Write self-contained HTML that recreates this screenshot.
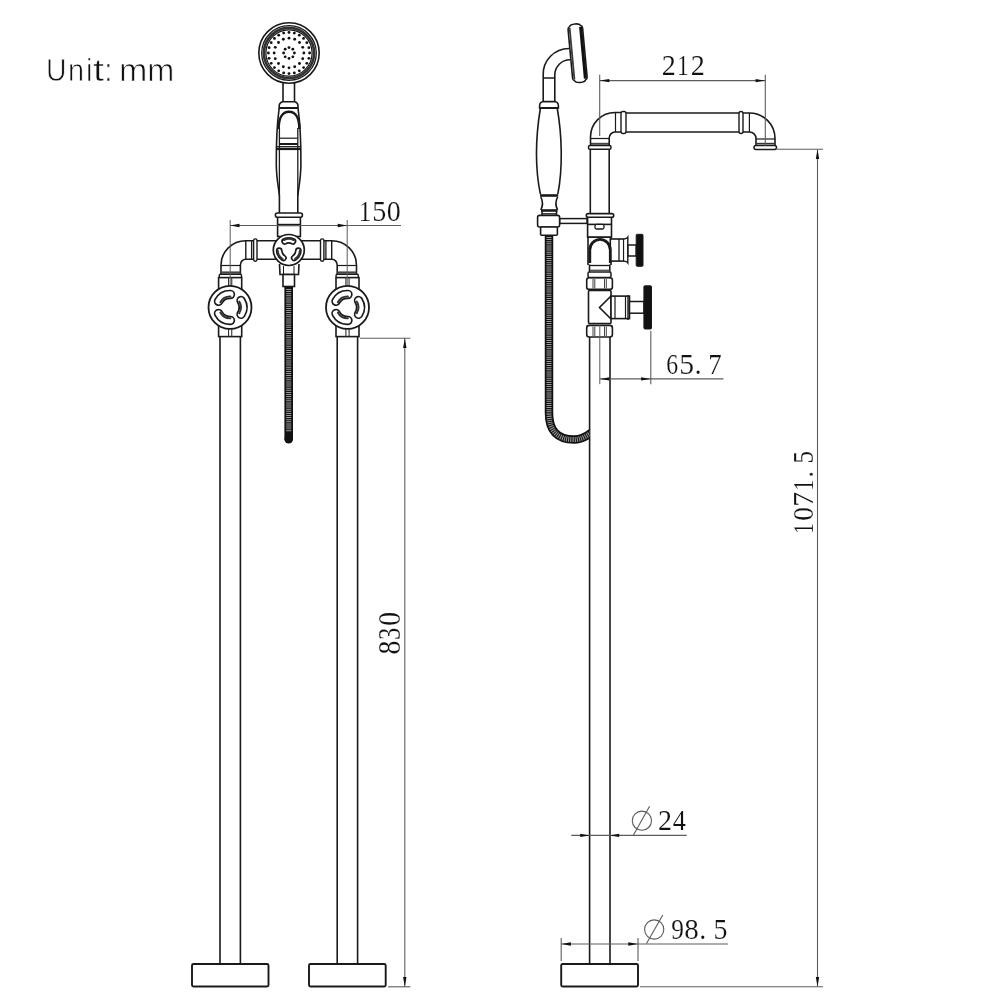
<!DOCTYPE html>
<html><head><meta charset="utf-8"><style>
html,body{margin:0;padding:0;background:#fff;}
body{width:1000px;height:1000px;overflow:hidden;position:relative;}
.unit{position:absolute;left:0;top:0;}
svg{position:absolute;left:0;top:0;will-change:transform;}
.dim{font-family:"Liberation Serif",serif;font-size:27px;fill:#111;}
.lbl{font-family:"Liberation Sans",sans-serif;font-size:30px;fill:#111;}
</style></head><body>
<svg width="1000" height="1000" viewBox="0 0 1000 1000">
<text transform="translate(46.018 81.290) scale(0.28421 0.31000)" style="font-family:'Liberation Sans';font-size:100px" fill="#111" stroke="#fff" stroke-width="2.46">U</text>
<text transform="translate(67.969 81.290) scale(0.28941 0.31000)" style="font-family:'Liberation Sans';font-size:100px" fill="#111" stroke="#fff" stroke-width="2.42">n</text>
<text transform="translate(86.000 81.290) scale(0.30000 0.31000)" style="font-family:'Liberation Sans';font-size:100px" fill="#111" stroke="#fff" stroke-width="2.33">i</text>
<text transform="translate(93.050 81.290) scale(0.40000 0.31000)" style="font-family:'Liberation Sans';font-size:100px" fill="#111" stroke="#fff" stroke-width="1.75">t</text>
<text transform="translate(104.225 81.290) scale(0.30000 0.31000)" style="font-family:'Liberation Sans';font-size:100px" fill="#111" stroke="#fff" stroke-width="2.33">:</text>
<text transform="translate(119.040 81.290) scale(0.34000 0.31000)" style="font-family:'Liberation Sans';font-size:100px" fill="#111" stroke="#fff" stroke-width="2.06">m</text>
<text transform="translate(147.142 81.290) scale(0.32429 0.31000)" style="font-family:'Liberation Sans';font-size:100px" fill="#111" stroke="#fff" stroke-width="2.16">m</text>
<line x1="220.00" y1="336.60" x2="220.00" y2="964.00" stroke="#1a1a1a" stroke-width="1.60"/>
<line x1="240.40" y1="336.60" x2="240.40" y2="964.00" stroke="#1a1a1a" stroke-width="1.60"/>
<line x1="337.20" y1="336.60" x2="337.20" y2="964.00" stroke="#1a1a1a" stroke-width="1.60"/>
<line x1="357.60" y1="336.60" x2="357.60" y2="964.00" stroke="#1a1a1a" stroke-width="1.60"/>
<rect x="192.00" y="964.00" width="76.50" height="22.50" rx="1.50" fill="#fff" stroke="#1a1a1a" stroke-width="1.90"/>
<rect x="309.00" y="964.00" width="76.70" height="22.50" rx="1.50" fill="#fff" stroke="#1a1a1a" stroke-width="1.90"/>
<path d="M221,277 V265 A24.8,24.2 0 0 1 245.8,240.8 H276" fill="none" stroke="#1a1a1a" stroke-width="1.60" />
<path d="M240.4,274 V265 A5.4,5.8 0 0 1 245.8,259.2 H276" fill="none" stroke="#1a1a1a" stroke-width="1.60" />
<line x1="221.00" y1="265.50" x2="240.40" y2="265.50" stroke="#1a1a1a" stroke-width="1.20"/>
<line x1="221.00" y1="272.50" x2="240.40" y2="272.50" stroke="#444" stroke-width="2.20"/>
<rect x="219.20" y="274.30" width="22.40" height="3.30" rx="1.40" fill="#fff" stroke="#1a1a1a" stroke-width="1.40"/>
<line x1="245.80" y1="240.80" x2="245.80" y2="259.20" stroke="#1a1a1a" stroke-width="1.40"/>
<line x1="251.60" y1="240.80" x2="251.60" y2="259.20" stroke="#1a1a1a" stroke-width="1.30"/>
<rect x="253.60" y="238.90" width="3.40" height="22.30" rx="1.60" fill="#fff" stroke="#1a1a1a" stroke-width="1.40"/>
<path d="M356.5,277 V265 A24.8,24.2 0 0 0 331.7,240.8 H301" fill="none" stroke="#1a1a1a" stroke-width="1.60" />
<path d="M337.2,274 V265 A5.4,5.8 0 0 0 331.7,259.2 H301" fill="none" stroke="#1a1a1a" stroke-width="1.60" />
<line x1="337.20" y1="265.50" x2="356.50" y2="265.50" stroke="#1a1a1a" stroke-width="1.20"/>
<line x1="337.20" y1="272.50" x2="356.50" y2="272.50" stroke="#444" stroke-width="2.20"/>
<rect x="336.00" y="274.30" width="22.40" height="3.30" rx="1.40" fill="#fff" stroke="#1a1a1a" stroke-width="1.40"/>
<line x1="331.70" y1="240.80" x2="331.70" y2="259.20" stroke="#1a1a1a" stroke-width="1.40"/>
<line x1="325.90" y1="240.80" x2="325.90" y2="259.20" stroke="#1a1a1a" stroke-width="1.30"/>
<rect x="320.50" y="238.90" width="3.40" height="22.30" rx="1.60" fill="#fff" stroke="#1a1a1a" stroke-width="1.40"/>
<rect x="218.60" y="277.60" width="23.10" height="14.40" rx="0.00" fill="#fff" stroke="#1a1a1a" stroke-width="1.60"/>
<rect x="218.60" y="322.00" width="23.10" height="14.60" rx="0.00" fill="#fff" stroke="#1a1a1a" stroke-width="1.60"/>
<line x1="228.55" y1="277.60" x2="228.55" y2="292.00" stroke="#333" stroke-width="1.10"/>
<line x1="231.75" y1="277.60" x2="231.75" y2="292.00" stroke="#333" stroke-width="1.10"/>
<line x1="228.55" y1="322.00" x2="228.55" y2="336.60" stroke="#333" stroke-width="1.10"/>
<line x1="231.75" y1="322.00" x2="231.75" y2="336.60" stroke="#333" stroke-width="1.10"/>
<rect x="336.00" y="277.60" width="23.00" height="14.40" rx="0.00" fill="#fff" stroke="#1a1a1a" stroke-width="1.60"/>
<rect x="336.00" y="322.00" width="23.00" height="14.60" rx="0.00" fill="#fff" stroke="#1a1a1a" stroke-width="1.60"/>
<line x1="345.90" y1="277.60" x2="345.90" y2="292.00" stroke="#333" stroke-width="1.10"/>
<line x1="349.10" y1="277.60" x2="349.10" y2="292.00" stroke="#333" stroke-width="1.10"/>
<line x1="345.90" y1="322.00" x2="345.90" y2="336.60" stroke="#333" stroke-width="1.10"/>
<line x1="349.10" y1="322.00" x2="349.10" y2="336.60" stroke="#333" stroke-width="1.10"/>
<line x1="230.20" y1="220.00" x2="230.20" y2="300.00" stroke="#5c5c5c" stroke-width="1.00"/>
<line x1="347.20" y1="220.00" x2="347.20" y2="300.00" stroke="#5c5c5c" stroke-width="1.00"/>
<circle cx="230.00" cy="307.40" r="21.50" fill="#fff" stroke="#1a1a1a" stroke-width="1.8"/>
<path d="M218.52,301.30 A13.00,13.00 0 0 1 230.45,294.41" fill="none" stroke="#1a1a1a" stroke-width="9.50" stroke-linecap="round"/>
<path d="M218.52,301.30 A13.00,13.00 0 0 1 230.45,294.41" fill="none" stroke="#fff" stroke-width="6.10" stroke-linecap="round"/>
<path d="M220.37,302.28 A10.91,10.91 0 0 1 230.38,296.50" fill="none" stroke="#333" stroke-width="2.00" stroke-linecap="round"/>
<path d="M241.02,300.51 A13.00,13.00 0 0 1 241.02,314.29" fill="none" stroke="#1a1a1a" stroke-width="9.50" stroke-linecap="round"/>
<path d="M241.02,300.51 A13.00,13.00 0 0 1 241.02,314.29" fill="none" stroke="#fff" stroke-width="6.10" stroke-linecap="round"/>
<path d="M239.25,301.62 A10.91,10.91 0 0 1 239.25,313.18" fill="none" stroke="#333" stroke-width="2.00" stroke-linecap="round"/>
<path d="M230.45,320.39 A13.00,13.00 0 0 1 218.52,313.50" fill="none" stroke="#1a1a1a" stroke-width="9.50" stroke-linecap="round"/>
<path d="M230.45,320.39 A13.00,13.00 0 0 1 218.52,313.50" fill="none" stroke="#fff" stroke-width="6.10" stroke-linecap="round"/>
<path d="M230.38,318.30 A10.91,10.91 0 0 1 220.37,312.52" fill="none" stroke="#333" stroke-width="2.00" stroke-linecap="round"/>
<circle cx="347.50" cy="307.40" r="21.50" fill="#fff" stroke="#1a1a1a" stroke-width="1.8"/>
<path d="M336.02,301.30 A13.00,13.00 0 0 1 347.95,294.41" fill="none" stroke="#1a1a1a" stroke-width="9.50" stroke-linecap="round"/>
<path d="M336.02,301.30 A13.00,13.00 0 0 1 347.95,294.41" fill="none" stroke="#fff" stroke-width="6.10" stroke-linecap="round"/>
<path d="M337.87,302.28 A10.91,10.91 0 0 1 347.88,296.50" fill="none" stroke="#333" stroke-width="2.00" stroke-linecap="round"/>
<path d="M358.52,300.51 A13.00,13.00 0 0 1 358.52,314.29" fill="none" stroke="#1a1a1a" stroke-width="9.50" stroke-linecap="round"/>
<path d="M358.52,300.51 A13.00,13.00 0 0 1 358.52,314.29" fill="none" stroke="#fff" stroke-width="6.10" stroke-linecap="round"/>
<path d="M356.75,301.62 A10.91,10.91 0 0 1 356.75,313.18" fill="none" stroke="#333" stroke-width="2.00" stroke-linecap="round"/>
<path d="M347.95,320.39 A13.00,13.00 0 0 1 336.02,313.50" fill="none" stroke="#1a1a1a" stroke-width="9.50" stroke-linecap="round"/>
<path d="M347.95,320.39 A13.00,13.00 0 0 1 336.02,313.50" fill="none" stroke="#fff" stroke-width="6.10" stroke-linecap="round"/>
<path d="M347.88,318.30 A10.91,10.91 0 0 1 337.87,312.52" fill="none" stroke="#333" stroke-width="2.00" stroke-linecap="round"/>
<rect x="277.60" y="217.00" width="22.80" height="19.50" rx="0.00" fill="#fff" stroke="#1a1a1a" stroke-width="1.60"/>
<line x1="277.60" y1="225.00" x2="300.40" y2="225.00" stroke="#1a1a1a" stroke-width="2.40"/>
<rect x="275.40" y="213.00" width="27.00" height="4.20" rx="2.00" fill="#fff" stroke="#1a1a1a" stroke-width="1.60"/>
<path d="M279.5,264 L280,274.5 H298.5 L299,264" fill="none" stroke="#1a1a1a" stroke-width="1.60" />
<line x1="283.50" y1="266.00" x2="283.50" y2="274.50" stroke="#1a1a1a" stroke-width="1.00"/>
<line x1="294.00" y1="266.00" x2="294.00" y2="274.50" stroke="#1a1a1a" stroke-width="1.00"/>
<rect x="283.00" y="274.50" width="11.50" height="12.00" rx="0.00" fill="#fff" stroke="#1a1a1a" stroke-width="1.60"/>
<circle cx="288.8" cy="250" r="15.5" fill="#fff" stroke="#1a1a1a" stroke-width="1.7"/>
<path d="M284.59,241.37 A9.60,9.60 0 0 1 293.01,241.37" fill="none" stroke="#1a1a1a" stroke-width="6.80" stroke-linecap="round"/>
<path d="M284.59,241.37 A9.60,9.60 0 0 1 293.01,241.37" fill="none" stroke="#fff" stroke-width="3.40" stroke-linecap="round"/>
<path d="M283.94,240.03 A11.10,11.10 0 0 1 293.66,240.03" fill="none" stroke="#333" stroke-width="2.00" stroke-linecap="round"/>
<path d="M298.38,250.67 A9.60,9.60 0 0 1 294.17,257.96" fill="none" stroke="#1a1a1a" stroke-width="6.80" stroke-linecap="round"/>
<path d="M298.38,250.67 A9.60,9.60 0 0 1 294.17,257.96" fill="none" stroke="#fff" stroke-width="3.40" stroke-linecap="round"/>
<path d="M299.87,250.77 A11.10,11.10 0 0 1 295.00,259.20" fill="none" stroke="#333" stroke-width="2.00" stroke-linecap="round"/>
<path d="M283.43,257.96 A9.60,9.60 0 0 1 279.22,250.67" fill="none" stroke="#1a1a1a" stroke-width="6.80" stroke-linecap="round"/>
<path d="M283.43,257.96 A9.60,9.60 0 0 1 279.22,250.67" fill="none" stroke="#fff" stroke-width="3.40" stroke-linecap="round"/>
<path d="M282.60,259.20 A11.10,11.10 0 0 1 277.73,250.77" fill="none" stroke="#333" stroke-width="2.00" stroke-linecap="round"/>
<path d="M288.7,286.5 V439.2" stroke="#111" stroke-width="8.6" fill="none"/><circle cx="288.7" cy="439.2" r="4.3" fill="#111"/>
<line x1="288.7" y1="289" x2="288.7" y2="432" stroke="#fff" stroke-width="5.0" stroke-dasharray="1 1.1" opacity="0.6"/>
<line x1="283.00" y1="83.00" x2="283.00" y2="101.80" stroke="#1a1a1a" stroke-width="1.60"/>
<line x1="294.50" y1="83.00" x2="294.50" y2="101.80" stroke="#1a1a1a" stroke-width="1.60"/>
<path d="M283,101.8 H294.5 Q298,102.5 298,106 V108 H279.2 V106 Q279.2,102.5 283,101.8 Z" fill="#fff" stroke="#1a1a1a" stroke-width="1.60" />
<line x1="279.20" y1="108.00" x2="298.00" y2="108.00" stroke="#1a1a1a" stroke-width="2.00"/>
<path d="M279.2,108 C276.8,125 276.2,150 276.3,165 C276.5,180 279,190 279.4,196 V213" fill="none" stroke="#1a1a1a" stroke-width="1.60" />
<path d="M298,108 C300.4,125 301,150 300.9,165 C300.7,180 298.2,190 297.8,196 V213" fill="none" stroke="#1a1a1a" stroke-width="1.60" />
<line x1="279.40" y1="128.00" x2="279.40" y2="196.00" stroke="#1a1a1a" stroke-width="1.30"/>
<line x1="297.80" y1="128.00" x2="297.80" y2="196.00" stroke="#1a1a1a" stroke-width="1.30"/>
<path d="M278.6,129 C278.6,116.5 283.5,111.8 289,111.8 C294.5,111.8 299.4,116.5 299.4,129" fill="none" stroke="#1a1a1a" stroke-width="2.60" />
<line x1="279.40" y1="138.20" x2="297.80" y2="138.20" stroke="#1a1a1a" stroke-width="1.20"/>
<line x1="279.40" y1="144.00" x2="297.80" y2="144.00" stroke="#1a1a1a" stroke-width="2.00"/>
<line x1="277.00" y1="146.60" x2="300.50" y2="146.60" stroke="#1a1a1a" stroke-width="1.10"/>
<line x1="276.60" y1="148.90" x2="300.80" y2="148.90" stroke="#1a1a1a" stroke-width="2.40"/>
<circle cx="289" cy="53" r="30.2" fill="#fff" stroke="#1a1a1a" stroke-width="1.6"/>
<circle cx="289" cy="53" r="27.3" fill="none" stroke="#1a1a1a" stroke-width="1.3"/>
<circle cx="289" cy="53" r="25.1" fill="none" stroke="#333" stroke-width="2.6"/>
<circle cx="289" cy="53" r="23.1" fill="none" stroke="#1a1a1a" stroke-width="1.2"/>
<circle cx="309.60" cy="53.00" r="1.42" fill="#111"/>
<circle cx="308.90" cy="58.33" r="1.42" fill="#111"/>
<circle cx="306.84" cy="63.30" r="1.42" fill="#111"/>
<circle cx="303.57" cy="67.57" r="1.42" fill="#111"/>
<circle cx="299.30" cy="70.84" r="1.42" fill="#111"/>
<circle cx="294.33" cy="72.90" r="1.42" fill="#111"/>
<circle cx="289.00" cy="73.60" r="1.42" fill="#111"/>
<circle cx="283.67" cy="72.90" r="1.42" fill="#111"/>
<circle cx="278.70" cy="70.84" r="1.42" fill="#111"/>
<circle cx="274.43" cy="67.57" r="1.42" fill="#111"/>
<circle cx="271.16" cy="63.30" r="1.42" fill="#111"/>
<circle cx="269.10" cy="58.33" r="1.42" fill="#111"/>
<circle cx="268.40" cy="53.00" r="1.42" fill="#111"/>
<circle cx="269.10" cy="47.67" r="1.42" fill="#111"/>
<circle cx="271.16" cy="42.70" r="1.42" fill="#111"/>
<circle cx="274.43" cy="38.43" r="1.42" fill="#111"/>
<circle cx="278.70" cy="35.16" r="1.42" fill="#111"/>
<circle cx="283.67" cy="33.10" r="1.42" fill="#111"/>
<circle cx="289.00" cy="32.40" r="1.42" fill="#111"/>
<circle cx="294.33" cy="33.10" r="1.42" fill="#111"/>
<circle cx="299.30" cy="35.16" r="1.42" fill="#111"/>
<circle cx="303.57" cy="38.43" r="1.42" fill="#111"/>
<circle cx="306.84" cy="42.70" r="1.42" fill="#111"/>
<circle cx="308.90" cy="47.67" r="1.42" fill="#111"/>
<circle cx="303.85" cy="53.00" r="1.42" fill="#111"/>
<circle cx="302.72" cy="58.68" r="1.42" fill="#111"/>
<circle cx="299.50" cy="63.50" r="1.42" fill="#111"/>
<circle cx="294.68" cy="66.72" r="1.42" fill="#111"/>
<circle cx="289.00" cy="67.85" r="1.42" fill="#111"/>
<circle cx="283.32" cy="66.72" r="1.42" fill="#111"/>
<circle cx="278.50" cy="63.50" r="1.42" fill="#111"/>
<circle cx="275.28" cy="58.68" r="1.42" fill="#111"/>
<circle cx="274.15" cy="53.00" r="1.42" fill="#111"/>
<circle cx="275.28" cy="47.32" r="1.42" fill="#111"/>
<circle cx="278.50" cy="42.50" r="1.42" fill="#111"/>
<circle cx="283.32" cy="39.28" r="1.42" fill="#111"/>
<circle cx="289.00" cy="38.15" r="1.42" fill="#111"/>
<circle cx="294.68" cy="39.28" r="1.42" fill="#111"/>
<circle cx="299.50" cy="42.50" r="1.42" fill="#111"/>
<circle cx="302.72" cy="47.32" r="1.42" fill="#111"/>
<circle cx="294.40" cy="53.00" r="1.42" fill="#111"/>
<circle cx="292.82" cy="56.82" r="1.42" fill="#111"/>
<circle cx="289.00" cy="58.40" r="1.42" fill="#111"/>
<circle cx="285.18" cy="56.82" r="1.42" fill="#111"/>
<circle cx="283.60" cy="53.00" r="1.42" fill="#111"/>
<circle cx="285.18" cy="49.18" r="1.42" fill="#111"/>
<circle cx="289.00" cy="47.60" r="1.42" fill="#111"/>
<circle cx="292.82" cy="49.18" r="1.42" fill="#111"/>
<line x1="230.00" y1="225.50" x2="401.00" y2="225.50" stroke="#5c5c5c" stroke-width="1.10"/>
<polygon points="230.00,225.50 239.50,223.80 239.50,227.20" fill="#111"/>
<polygon points="347.20,225.50 337.70,223.80 337.70,227.20" fill="#111"/>
<text transform="translate(358.750 220.850) scale(0.25000 0.30075)" style="font-family:'Liberation Serif';font-size:100px" fill="#111" stroke="#fff" stroke-width="0.60">1</text>
<text transform="translate(372.312 220.850) scale(0.28125 0.30075)" style="font-family:'Liberation Serif';font-size:100px" fill="#111" stroke="#fff" stroke-width="0.53">5</text>
<text transform="translate(386.631 220.850) scale(0.27976 0.30075)" style="font-family:'Liberation Serif';font-size:100px" fill="#111" stroke="#fff" stroke-width="0.54">0</text>
<line x1="360.00" y1="338.30" x2="410.40" y2="338.30" stroke="#5c5c5c" stroke-width="1.10"/>
<line x1="388.00" y1="986.80" x2="410.40" y2="986.80" stroke="#5c5c5c" stroke-width="1.10"/>
<line x1="404.80" y1="338.30" x2="404.80" y2="986.80" stroke="#5c5c5c" stroke-width="1.10"/>
<polygon points="404.80,338.50 403.10,348.00 406.50,348.00" fill="#111"/>
<polygon points="404.80,986.60 403.10,977.10 406.50,977.10" fill="#111"/>
<text transform="translate(400.247 654.605) rotate(-90) scale(0.27619 0.30526)" style="font-family:'Liberation Serif';font-size:100px" fill="#111" stroke="#fff" stroke-width="0.54">8</text>
<text transform="translate(400.247 639.920) rotate(-90) scale(0.24390 0.30526)" style="font-family:'Liberation Serif';font-size:100px" fill="#111" stroke="#fff" stroke-width="0.61">3</text>
<text transform="translate(400.247 625.705) rotate(-90) scale(0.27619 0.30526)" style="font-family:'Liberation Serif';font-size:100px" fill="#111" stroke="#fff" stroke-width="0.54">0</text>
<line x1="589.60" y1="337.00" x2="589.60" y2="964.00" stroke="#1a1a1a" stroke-width="1.60"/>
<line x1="610.00" y1="337.00" x2="610.00" y2="964.00" stroke="#1a1a1a" stroke-width="1.60"/>
<rect x="561.20" y="964.00" width="76.80" height="22.50" rx="1.50" fill="#fff" stroke="#1a1a1a" stroke-width="1.90"/>
<defs><clipPath id="hc"><rect x="500" y="200" width="89.5" height="300"/></clipPath></defs>
<g clip-path="url(#hc)">
<path d="M549,235 V413 Q549,439.6 574,439.6 Q584,439.6 596,429" fill="none" stroke="#111" stroke-width="8.5"/>
<path d="M549,237 V413 Q549,439.6 574,439.6 Q584,439.6 596,429" fill="none" stroke="#fff" stroke-width="5.0" stroke-dasharray="1 1.1" opacity="0.6"/>
</g>
<rect x="586.70" y="325.40" width="25.70" height="11.60" rx="2.50" fill="#fff" stroke="#1a1a1a" stroke-width="1.60"/>
<line x1="593.00" y1="326.50" x2="593.00" y2="336.00" stroke="#444" stroke-width="1.00"/>
<line x1="594.80" y1="326.50" x2="594.80" y2="336.00" stroke="#444" stroke-width="1.00"/>
<line x1="604.50" y1="326.50" x2="604.50" y2="336.00" stroke="#444" stroke-width="1.00"/>
<line x1="606.30" y1="326.50" x2="606.30" y2="336.00" stroke="#444" stroke-width="1.00"/>
<rect x="588.50" y="290.50" width="22.50" height="33.00" rx="1.00" fill="#fff" stroke="#1a1a1a" stroke-width="1.60"/>
<path d="M611,296 L599.5,307.5 L611,319" fill="none" stroke="#1a1a1a" stroke-width="1.60" />
<rect x="611.00" y="296.10" width="18.50" height="22.50" rx="0.00" fill="#fff" stroke="#1a1a1a" stroke-width="1.60"/>
<line x1="615.00" y1="296.10" x2="615.00" y2="318.60" stroke="#1a1a1a" stroke-width="1.20"/>
<line x1="625.50" y1="296.10" x2="625.50" y2="318.60" stroke="#1a1a1a" stroke-width="1.20"/>
<line x1="628.00" y1="295.00" x2="628.00" y2="320.00" stroke="#1a1a1a" stroke-width="1.40"/>
<rect x="629.50" y="301.50" width="14.50" height="11.70" rx="0.00" fill="#fff" stroke="#1a1a1a" stroke-width="1.50"/>
<rect x="643.90" y="285.80" width="7.60" height="43.20" rx="1.00" fill="#111" stroke="#1a1a1a" stroke-width="1.00"/>
<rect x="586.70" y="277.70" width="25.70" height="11.70" rx="2.50" fill="#fff" stroke="#1a1a1a" stroke-width="1.60"/>
<line x1="593.00" y1="279.00" x2="593.00" y2="288.50" stroke="#444" stroke-width="1.00"/>
<line x1="594.80" y1="279.00" x2="594.80" y2="288.50" stroke="#444" stroke-width="1.00"/>
<line x1="604.50" y1="279.00" x2="604.50" y2="288.50" stroke="#444" stroke-width="1.00"/>
<line x1="606.30" y1="279.00" x2="606.30" y2="288.50" stroke="#444" stroke-width="1.00"/>
<rect x="588.00" y="272.00" width="23.00" height="5.50" rx="1.50" fill="#fff" stroke="#1a1a1a" stroke-width="1.50"/>
<line x1="589.50" y1="264.50" x2="589.50" y2="272.00" stroke="#1a1a1a" stroke-width="1.60"/>
<line x1="609.80" y1="264.50" x2="609.80" y2="272.00" stroke="#1a1a1a" stroke-width="1.60"/>
<line x1="589.50" y1="265.50" x2="609.80" y2="265.50" stroke="#1a1a1a" stroke-width="1.30"/>
<line x1="590.00" y1="270.70" x2="609.50" y2="270.70" stroke="#555" stroke-width="2.20"/>
<line x1="588.00" y1="237.00" x2="588.00" y2="265.00" stroke="#1a1a1a" stroke-width="1.60"/>
<line x1="611.00" y1="237.00" x2="611.00" y2="265.00" stroke="#1a1a1a" stroke-width="1.60"/>
<line x1="588.00" y1="237.00" x2="611.00" y2="237.00" stroke="#1a1a1a" stroke-width="1.60"/>
<rect x="610.30" y="239.00" width="16.70" height="22.10" rx="0.00" fill="#fff" stroke="#1a1a1a" stroke-width="1.60"/>
<line x1="619.00" y1="239.00" x2="619.00" y2="261.10" stroke="#1a1a1a" stroke-width="1.30"/>
<line x1="623.60" y1="239.00" x2="623.60" y2="261.10" stroke="#1a1a1a" stroke-width="1.30"/>
<path d="M624.5,239 Q627,238.5 627.8,237.2 V262.9 Q627,261.6 624.5,261.1" fill="#fff" stroke="#1a1a1a" stroke-width="1.40" />
<path d="M589.8,263 V250 A10.25,10.6 0 0 1 610.3,250 V263" fill="none" stroke="#1a1a1a" stroke-width="2.80" />
<rect x="628.00" y="245.00" width="8.20" height="11.00" rx="0.00" fill="#fff" stroke="#1a1a1a" stroke-width="1.50"/>
<rect x="636.20" y="234.30" width="6.80" height="32.00" rx="1.00" fill="#111" stroke="#1a1a1a" stroke-width="1.00"/>
<rect x="587.60" y="217.20" width="23.90" height="19.80" rx="0.00" fill="#fff" stroke="#1a1a1a" stroke-width="1.60"/>
<line x1="587.60" y1="224.40" x2="611.50" y2="224.40" stroke="#1a1a1a" stroke-width="1.60"/>
<rect x="595.00" y="224.40" width="9.00" height="4.60" rx="1.50" fill="#fff" stroke="#1a1a1a" stroke-width="1.30"/>
<rect x="586.30" y="213.60" width="27.40" height="3.60" rx="1.80" fill="#fff" stroke="#1a1a1a" stroke-width="1.60"/>
<line x1="590.30" y1="149.00" x2="590.30" y2="213.60" stroke="#1a1a1a" stroke-width="1.60"/>
<line x1="609.20" y1="149.00" x2="609.20" y2="213.60" stroke="#1a1a1a" stroke-width="1.60"/>
<rect x="588.50" y="145.50" width="22.50" height="3.70" rx="1.50" fill="#fff" stroke="#1a1a1a" stroke-width="1.50"/>
<line x1="590.30" y1="143.80" x2="609.20" y2="143.80" stroke="#444" stroke-width="2.00"/>
<line x1="590.30" y1="138.50" x2="609.20" y2="138.50" stroke="#1a1a1a" stroke-width="1.20"/>
<path d="M590.5,145.5 V137 A24.5,24.5 0 0 1 615,112.5 H621" fill="none" stroke="#1a1a1a" stroke-width="1.60" />
<path d="M609.2,145.5 V138 A6,6 0 0 1 615,132 H621" fill="none" stroke="#1a1a1a" stroke-width="1.60" />
<line x1="615.50" y1="113.00" x2="615.50" y2="132.00" stroke="#1a1a1a" stroke-width="1.20"/>
<rect x="621.00" y="111.50" width="5.00" height="22.00" rx="2.00" fill="#fff" stroke="#1a1a1a" stroke-width="1.40"/>
<line x1="626.00" y1="113.00" x2="739.00" y2="113.00" stroke="#1a1a1a" stroke-width="1.60"/>
<line x1="626.00" y1="132.00" x2="739.00" y2="132.00" stroke="#1a1a1a" stroke-width="1.60"/>
<rect x="739.00" y="111.50" width="4.00" height="22.00" rx="2.00" fill="#fff" stroke="#1a1a1a" stroke-width="1.40"/>
<line x1="749.40" y1="113.00" x2="749.40" y2="132.00" stroke="#1a1a1a" stroke-width="1.20"/>
<path d="M743,113 H749.4 A25.5,25.5 0 0 1 775,138.5 V145.6" fill="none" stroke="#1a1a1a" stroke-width="1.60" />
<path d="M743,132 H749.4 A6.5,6.5 0 0 1 756,138.5 V145.6" fill="none" stroke="#1a1a1a" stroke-width="1.60" />
<line x1="756.00" y1="139.00" x2="775.00" y2="139.00" stroke="#1a1a1a" stroke-width="1.20"/>
<line x1="756.00" y1="143.60" x2="775.00" y2="143.60" stroke="#333" stroke-width="1.60"/>
<rect x="754.00" y="145.60" width="22.50" height="3.80" rx="1.80" fill="#fff" stroke="#1a1a1a" stroke-width="1.50"/>
<path d="M543.2,78 V75 A25.8,25.8 0 0 1 569,48.5" fill="none" stroke="#1a1a1a" stroke-width="1.60" />
<path d="M554.8,78 V75 A15.2,15.2 0 0 1 570,59.8" fill="none" stroke="#1a1a1a" stroke-width="1.60" />
<line x1="543.20" y1="78.00" x2="554.80" y2="78.00" stroke="#1a1a1a" stroke-width="1.50"/>
<line x1="543.20" y1="78.00" x2="543.20" y2="101.60" stroke="#1a1a1a" stroke-width="1.60"/>
<line x1="554.80" y1="78.00" x2="554.80" y2="101.60" stroke="#1a1a1a" stroke-width="1.60"/>
<path d="M543,101.6 H555 Q558.4,102.5 558.4,106 V108 H539.6 V106 Q539.6,102.5 543,101.6 Z" fill="#fff" stroke="#1a1a1a" stroke-width="1.60" />
<line x1="539.60" y1="108.00" x2="558.40" y2="108.00" stroke="#1a1a1a" stroke-width="2.00"/>
<path d="M540.4,108 C536,135 535,168 540.4,194.2" fill="none" stroke="#1a1a1a" stroke-width="1.60" />
<path d="M557.2,108 C562,135 563,168 557.8,194.2" fill="none" stroke="#1a1a1a" stroke-width="1.60" />
<line x1="540.00" y1="195.50" x2="558.20" y2="195.50" stroke="#1a1a1a" stroke-width="2.60"/>
<path d="M540.8,197 Q544.2,203.5 540.8,210" fill="none" stroke="#1a1a1a" stroke-width="1.60" />
<path d="M557.6,197 Q554.2,203.5 557.6,210" fill="none" stroke="#1a1a1a" stroke-width="1.60" />
<line x1="541.00" y1="210.50" x2="557.50" y2="210.50" stroke="#1a1a1a" stroke-width="2.60"/>
<line x1="542.00" y1="213.80" x2="556.50" y2="213.80" stroke="#1a1a1a" stroke-width="1.30"/>
<line x1="542.00" y1="211.00" x2="542.00" y2="215.40" stroke="#1a1a1a" stroke-width="1.60"/>
<line x1="556.50" y1="211.00" x2="556.50" y2="215.40" stroke="#1a1a1a" stroke-width="1.60"/>
<rect x="559.60" y="218.60" width="27.40" height="4.80" rx="0.00" fill="#fff" stroke="#1a1a1a" stroke-width="1.50"/>
<rect x="537.60" y="215.40" width="22.00" height="11.60" rx="2.00" fill="#fff" stroke="#1a1a1a" stroke-width="1.60"/>
<rect x="540.60" y="227.00" width="16.80" height="8.20" rx="1.00" fill="#fff" stroke="#1a1a1a" stroke-width="1.60"/>
<g transform="translate(577.6 53.2) rotate(-5.3)">
<path d="M-7.3,-24.5 Q-7.3,-26.6 -5.6,-27.2 Q-4.6,-29.4 0,-29.4 Q4.6,-29.4 5.6,-27.2 Q7.3,-26.6 7.3,-24.5 V24.5 Q7.3,26.6 5.6,27.2 Q4.6,29.4 0,29.4 Q-4.6,29.4 -5.6,27.2 Q-7.3,26.6 -7.3,24.5 Z" fill="#fff" stroke="#1a1a1a" stroke-width="1.60" />
<line x1="-5.60" y1="-26.00" x2="-5.60" y2="26.00" stroke="#3a3a3a" stroke-width="1.80"/>
<line x1="5.40" y1="-26.00" x2="5.40" y2="26.00" stroke="#111" stroke-width="3.00"/>
</g>
<line x1="599.70" y1="74.70" x2="599.70" y2="136.00" stroke="#5c5c5c" stroke-width="1.10"/>
<line x1="765.30" y1="74.70" x2="765.30" y2="146.00" stroke="#5c5c5c" stroke-width="1.10"/>
<line x1="599.70" y1="80.60" x2="765.30" y2="80.60" stroke="#5c5c5c" stroke-width="1.10"/>
<polygon points="599.90,80.60 609.40,78.90 609.40,82.30" fill="#111"/>
<polygon points="765.10,80.60 755.60,78.90 755.60,82.30" fill="#111"/>
<text transform="translate(661.734 75.353) scale(0.28125 0.29323)" style="font-family:'Liberation Serif';font-size:100px" fill="#111" stroke="#fff" stroke-width="0.53">2</text>
<text transform="translate(676.879 75.353) scale(0.23571 0.29323)" style="font-family:'Liberation Serif';font-size:100px" fill="#111" stroke="#fff" stroke-width="0.64">1</text>
<text transform="translate(690.734 75.353) scale(0.28125 0.29323)" style="font-family:'Liberation Serif';font-size:100px" fill="#111" stroke="#fff" stroke-width="0.53">2</text>
<line x1="777.00" y1="149.20" x2="823.00" y2="149.20" stroke="#5c5c5c" stroke-width="1.10"/>
<line x1="640.00" y1="986.80" x2="823.00" y2="986.80" stroke="#5c5c5c" stroke-width="1.10"/>
<line x1="817.50" y1="149.20" x2="817.50" y2="986.80" stroke="#5c5c5c" stroke-width="1.10"/>
<polygon points="817.50,149.50 815.80,159.00 819.20,159.00" fill="#111"/>
<polygon points="817.50,986.60 815.80,977.10 819.20,977.10" fill="#111"/>
<text transform="translate(812.652 534.006) rotate(-90) scale(0.22286 0.29624)" style="font-family:'Liberation Serif';font-size:100px" fill="#111" stroke="#fff" stroke-width="0.67">1</text>
<text transform="translate(812.652 520.695) rotate(-90) scale(0.27381 0.29624)" style="font-family:'Liberation Serif';font-size:100px" fill="#111" stroke="#fff" stroke-width="0.55">0</text>
<text transform="translate(812.652 506.826) rotate(-90) scale(0.29630 0.29624)" style="font-family:'Liberation Serif';font-size:100px" fill="#111" stroke="#fff" stroke-width="0.51">7</text>
<text transform="translate(812.652 490.806) rotate(-90) scale(0.22286 0.29624)" style="font-family:'Liberation Serif';font-size:100px" fill="#111" stroke="#fff" stroke-width="0.67">1</text>
<text transform="translate(812.652 477.456) rotate(-90) scale(0.25250 0.29624)" style="font-family:'Liberation Serif';font-size:100px" fill="#111" stroke="#fff" stroke-width="0.59">.</text>
<text transform="translate(812.652 463.615) rotate(-90) scale(0.25250 0.29624)" style="font-family:'Liberation Serif';font-size:100px" fill="#111" stroke="#fff" stroke-width="0.59">5</text>
<line x1="599.80" y1="325.00" x2="599.80" y2="384.20" stroke="#5c5c5c" stroke-width="1.00"/>
<line x1="650.80" y1="331.00" x2="650.80" y2="384.20" stroke="#5c5c5c" stroke-width="1.10"/>
<line x1="599.80" y1="378.90" x2="723.40" y2="378.90" stroke="#5c5c5c" stroke-width="1.10"/>
<polygon points="600.00,378.90 609.50,377.20 609.50,380.60" fill="#111"/>
<polygon points="650.60,378.90 641.10,377.20 641.10,380.60" fill="#111"/>
<text transform="translate(666.331 374.450) scale(0.23765 0.29925)" style="font-family:'Liberation Serif';font-size:100px" fill="#111" stroke="#fff" stroke-width="0.63">6</text>
<text transform="translate(679.215 374.450) scale(0.29750 0.29925)" style="font-family:'Liberation Serif';font-size:100px" fill="#111" stroke="#fff" stroke-width="0.50">5</text>
<text transform="translate(694.786 374.450) scale(0.26914 0.29925)" style="font-family:'Liberation Serif';font-size:100px" fill="#111" stroke="#fff" stroke-width="0.56">.</text>
<text transform="translate(708.251 374.450) scale(0.26914 0.29925)" style="font-family:'Liberation Serif';font-size:100px" fill="#111" stroke="#fff" stroke-width="0.56">7</text>
<line x1="571.20" y1="835.40" x2="686.70" y2="835.40" stroke="#5c5c5c" stroke-width="1.10"/>
<polygon points="589.70,835.40 580.20,833.70 580.20,837.10" fill="#111"/>
<polygon points="609.70,835.40 619.20,833.70 619.20,837.10" fill="#111"/>
<circle cx="641.9" cy="820.7" r="9.6" fill="none" stroke="#5c5c5c" stroke-width="1.1"/>
<line x1="633.50" y1="835.00" x2="649.60" y2="806.30" stroke="#5c5c5c" stroke-width="1.10"/>
<text transform="translate(657.940 830.453) scale(0.28000 0.29474)" style="font-family:'Liberation Serif';font-size:100px" fill="#111" stroke="#fff" stroke-width="0.54">2</text>
<text transform="translate(672.675 830.453) scale(0.26237 0.29474)" style="font-family:'Liberation Serif';font-size:100px" fill="#111" stroke="#fff" stroke-width="0.57">4</text>
<line x1="561.20" y1="938.00" x2="561.20" y2="961.00" stroke="#5c5c5c" stroke-width="1.10"/>
<line x1="638.00" y1="938.00" x2="638.00" y2="961.00" stroke="#5c5c5c" stroke-width="1.10"/>
<line x1="561.20" y1="944.00" x2="727.90" y2="944.00" stroke="#5c5c5c" stroke-width="1.10"/>
<polygon points="561.40,944.00 570.90,942.30 570.90,945.70" fill="#111"/>
<polygon points="637.80,944.00 628.30,942.30 628.30,945.70" fill="#111"/>
<circle cx="654.2" cy="929.5" r="9.6" fill="none" stroke="#5c5c5c" stroke-width="1.1"/>
<line x1="646.50" y1="943.50" x2="662.80" y2="914.90" stroke="#5c5c5c" stroke-width="1.10"/>
<text transform="translate(671.340 939.451) scale(0.25349 0.29774)" style="font-family:'Liberation Serif';font-size:100px" fill="#111" stroke="#fff" stroke-width="0.59">9</text>
<text transform="translate(684.338 939.451) scale(0.29048 0.29774)" style="font-family:'Liberation Serif';font-size:100px" fill="#111" stroke="#fff" stroke-width="0.52">8</text>
<text transform="translate(699.150 939.451) scale(0.28000 0.29774)" style="font-family:'Liberation Serif';font-size:100px" fill="#111" stroke="#fff" stroke-width="0.54">.</text>
<text transform="translate(713.620 939.451) scale(0.28000 0.29774)" style="font-family:'Liberation Serif';font-size:100px" fill="#111" stroke="#fff" stroke-width="0.54">5</text>
</svg>
</body></html>
